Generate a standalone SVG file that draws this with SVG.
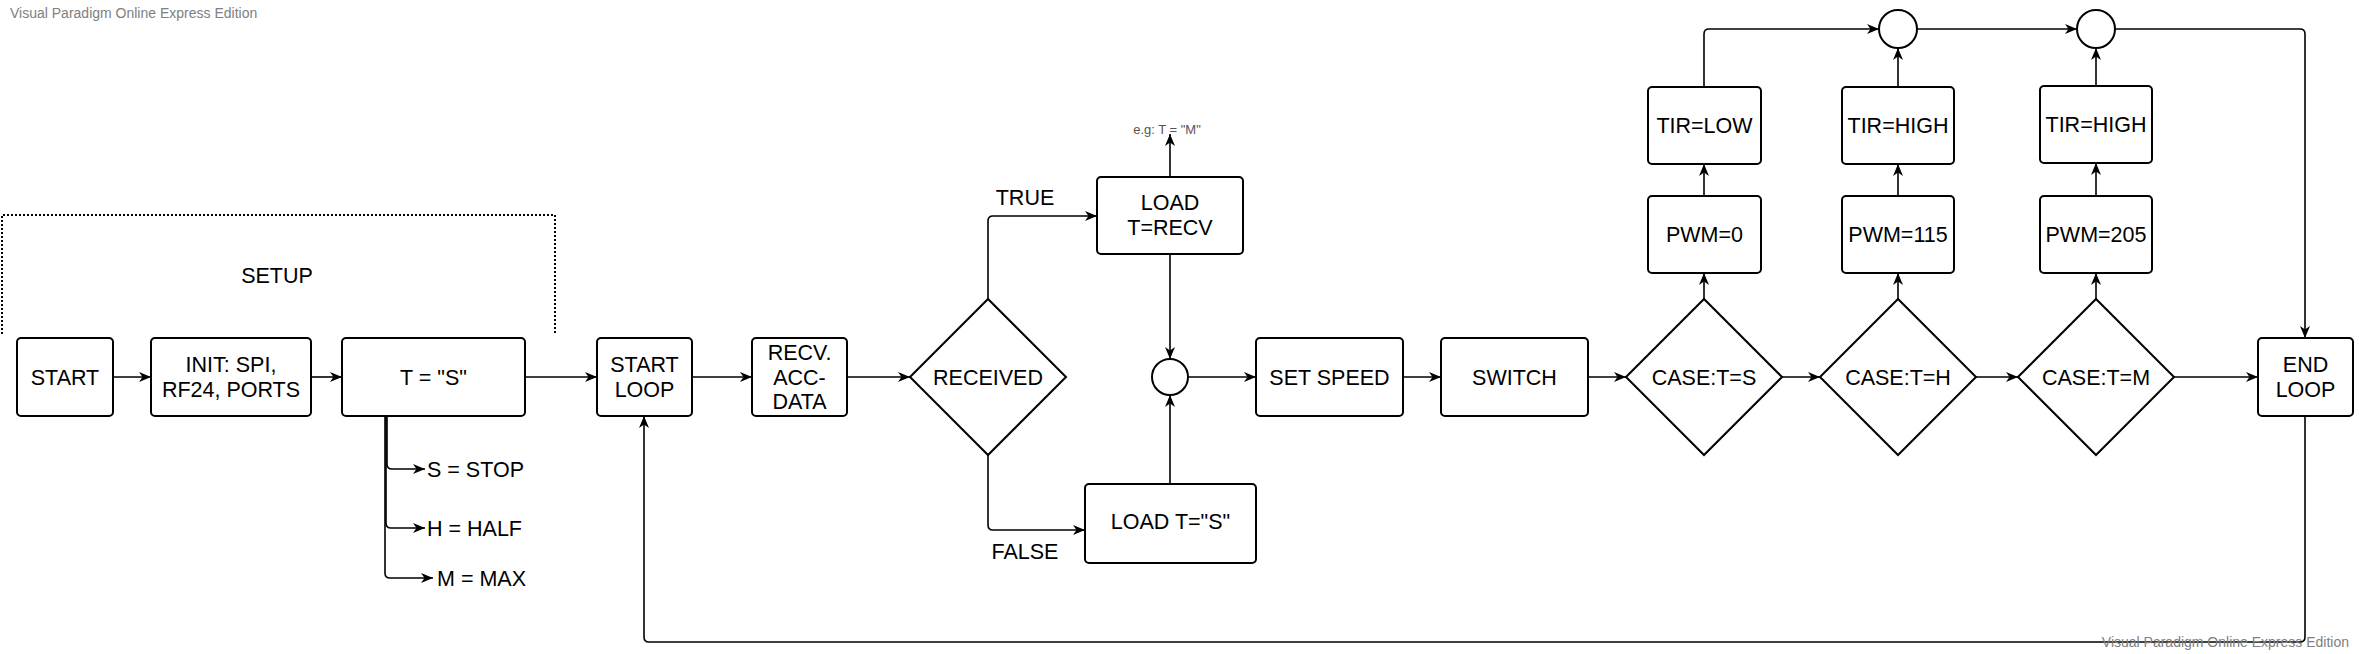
<svg xmlns="http://www.w3.org/2000/svg" width="2359" height="654" viewBox="0 0 2359 654">
<style>
  .box { fill: #ffffff; stroke: #000000; stroke-width: 2; }
  .conn { fill: none; stroke: #000000; stroke-width: 1.6; }
  .t { font-family: "Liberation Sans", Arial, sans-serif; font-size: 21.5px; fill: #000000; text-anchor: middle; }
  .tl { font-family: "Liberation Sans", Arial, sans-serif; font-size: 21.5px; fill: #000000; text-anchor: start; }
  .small { font-family: "Liberation Sans", Arial, sans-serif; font-size: 13px; fill: #555555; text-anchor: middle; }
  .wm { font-family: "Liberation Sans", Arial, sans-serif; font-size: 14px; fill: #808080; }
  .setup { fill: none; stroke: #000000; stroke-width: 2; stroke-dasharray: 2 2; }
</style>
<defs>
  <marker id="arr" markerUnits="userSpaceOnUse" markerWidth="13" markerHeight="11" refX="12" refY="5.5" orient="auto">
    <path d="M0,0.5 L12,5.5 L0,10.5 L3.5,5.5 Z" fill="#000000"/>
  </marker>
</defs>
<rect width="2359" height="654" fill="#ffffff"/>

<text class="wm" x="10" y="18">Visual Paradigm Online Express Edition</text>

<g id="setup-group">
  <path class="setup" d="M2,334 V215 H555 V334"/>
  <text class="t" x="277" y="283">SETUP</text>
</g>

<g id="connectors">
  <path class="conn" d="M113,377 H151" marker-end="url(#arr)"/>
  <path class="conn" d="M311,377 H342" marker-end="url(#arr)"/>
  <path class="conn" d="M525,377 H597" marker-end="url(#arr)"/>
  <path class="conn" d="M387,416 V464 Q387,469 392,469 H425" marker-end="url(#arr)"/>
  <path class="conn" d="M386,416 V523 Q386,528 391,528 H425" marker-end="url(#arr)"/>
  <path class="conn" d="M385,416 V573 Q385,578 390,578 H433" marker-end="url(#arr)"/>
  <path class="conn" d="M692,377 H752" marker-end="url(#arr)"/>
  <path class="conn" d="M847,377 H910" marker-end="url(#arr)"/>
  <path class="conn" d="M988,299 V221 Q988,216 993,216 H1097" marker-end="url(#arr)"/>
  <path class="conn" d="M988,455 V525 Q988,530 993,530 H1085" marker-end="url(#arr)"/>
  <path class="conn" d="M1170,177 V134" marker-end="url(#arr)"/>
  <path class="conn" d="M1170,254 V359" marker-end="url(#arr)"/>
  <path class="conn" d="M1170,484 V395" marker-end="url(#arr)"/>
  <path class="conn" d="M1188,377 H1256" marker-end="url(#arr)"/>
  <path class="conn" d="M1403,377 H1441" marker-end="url(#arr)"/>
  <path class="conn" d="M1588,377 H1626" marker-end="url(#arr)"/>
  <path class="conn" d="M1782,377 H1820" marker-end="url(#arr)"/>
  <path class="conn" d="M1976,377 H2018" marker-end="url(#arr)"/>
  <path class="conn" d="M2174,377 H2258" marker-end="url(#arr)"/>
  <path class="conn" d="M1704,299 V273" marker-end="url(#arr)"/>
  <path class="conn" d="M1704,196 V164" marker-end="url(#arr)"/>
  <path class="conn" d="M1704,87 V34 Q1704,29 1709,29 H1879" marker-end="url(#arr)"/>
  <path class="conn" d="M1898,299 V273" marker-end="url(#arr)"/>
  <path class="conn" d="M1898,196 V164" marker-end="url(#arr)"/>
  <path class="conn" d="M1898,87 V48" marker-end="url(#arr)"/>
  <path class="conn" d="M2096,299 V273" marker-end="url(#arr)"/>
  <path class="conn" d="M2096,196 V163" marker-end="url(#arr)"/>
  <path class="conn" d="M2096,86 V48" marker-end="url(#arr)"/>
  <path class="conn" d="M1917,29 H2077" marker-end="url(#arr)"/>
  <path class="conn" d="M2115,29 H2300 Q2305,29 2305,34 V338" marker-end="url(#arr)"/>
  <path class="conn" d="M2305,416 V637 Q2305,642 2300,642 H649 Q644,642 644,637 V416" marker-end="url(#arr)"/>
</g>

<g id="start">
  <rect class="box" x="17" y="338" width="96" height="78" rx="4"/>
  <text class="t" x="65" y="384.5">START</text>
</g>
<g id="init">
  <rect class="box" x="151" y="338" width="160" height="78" rx="4"/>
  <text class="t" x="231" y="372">INIT: SPI,</text>
  <text class="t" x="231" y="396.5">RF24, PORTS</text>
</g>
<g id="t-s">
  <rect class="box" x="342" y="338" width="183" height="78" rx="4"/>
  <text class="t" x="433.5" y="384.5">T = "S"</text>
</g>
<g id="opt-stop"><text class="tl" x="427" y="476.5">S = STOP</text></g>
<g id="opt-half"><text class="tl" x="427" y="535.5">H = HALF</text></g>
<g id="opt-max"><text class="tl" x="437" y="585.5">M = MAX</text></g>

<g id="start-loop">
  <rect class="box" x="597" y="338" width="95" height="78" rx="4"/>
  <text class="t" x="644.5" y="372">START</text>
  <text class="t" x="644.5" y="396.5">LOOP</text>
</g>
<g id="recv">
  <rect class="box" x="752" y="338" width="95" height="78" rx="4"/>
  <text class="t" x="799.5" y="360">RECV.</text>
  <text class="t" x="799.5" y="384.5">ACC-</text>
  <text class="t" x="799.5" y="409">DATA</text>
</g>
<g id="received">
  <polygon class="box" points="910,377 988,299 1066,377 988,455"/>
  <text class="t" x="988" y="384.5">RECEIVED</text>
</g>
<g id="label-true"><text class="t" x="1025" y="204.5">TRUE</text></g>
<g id="label-false"><text class="t" x="1025" y="558.5">FALSE</text></g>

<g id="load-recv">
  <rect class="box" x="1097" y="177" width="146" height="77" rx="4"/>
  <text class="t" x="1170" y="210">LOAD</text>
  <text class="t" x="1170" y="234.5">T=RECV</text>
</g>
<g id="eg-note"><text class="small" x="1167" y="133.5">e.g: T = "M"</text></g>
<g id="load-s">
  <rect class="box" x="1085" y="484" width="171" height="79" rx="4"/>
  <text class="t" x="1170.5" y="529">LOAD T="S"</text>
</g>
<g id="merge1">
  <circle class="box" cx="1170" cy="377" r="18"/>
</g>
<g id="set-speed">
  <rect class="box" x="1256" y="338" width="147" height="78" rx="4"/>
  <text class="t" x="1329.5" y="384.5">SET SPEED</text>
</g>
<g id="switch">
  <rect class="box" x="1441" y="338" width="147" height="78" rx="4"/>
  <text class="t" x="1514.5" y="384.5">SWITCH</text>
</g>

<g id="case-s">
  <polygon class="box" points="1626,377 1704,299 1782,377 1704,455"/>
  <text class="t" x="1704" y="384.5">CASE:T=S</text>
</g>
<g id="case-h">
  <polygon class="box" points="1820,377 1898,299 1976,377 1898,455"/>
  <text class="t" x="1898" y="384.5">CASE:T=H</text>
</g>
<g id="case-m">
  <polygon class="box" points="2018,377 2096,299 2174,377 2096,455"/>
  <text class="t" x="2096" y="384.5">CASE:T=M</text>
</g>

<g id="pwm-0">
  <rect class="box" x="1648" y="196" width="113" height="77" rx="4"/>
  <text class="t" x="1704.5" y="242">PWM=0</text>
</g>
<g id="tir-low">
  <rect class="box" x="1648" y="87" width="113" height="77" rx="4"/>
  <text class="t" x="1704.5" y="133">TIR=LOW</text>
</g>
<g id="pwm-115">
  <rect class="box" x="1842" y="196" width="112" height="77" rx="4"/>
  <text class="t" x="1898" y="242">PWM=115</text>
</g>
<g id="tir-high-1">
  <rect class="box" x="1842" y="87" width="112" height="77" rx="4"/>
  <text class="t" x="1898" y="133">TIR=HIGH</text>
</g>
<g id="pwm-205">
  <rect class="box" x="2040" y="196" width="112" height="77" rx="4"/>
  <text class="t" x="2096" y="242">PWM=205</text>
</g>
<g id="tir-high-2">
  <rect class="box" x="2040" y="86" width="112" height="77" rx="4"/>
  <text class="t" x="2096" y="132">TIR=HIGH</text>
</g>
<g id="merge2">
  <circle class="box" cx="1898" cy="29" r="19"/>
</g>
<g id="merge3">
  <circle class="box" cx="2096" cy="29" r="19"/>
</g>
<g id="end-loop">
  <rect class="box" x="2258" y="338" width="95" height="78" rx="4"/>
  <text class="t" x="2305.5" y="372">END</text>
  <text class="t" x="2305.5" y="396.5">LOOP</text>
</g>

<text class="wm" x="2349" y="647" text-anchor="end">Visual Paradigm Online Express Edition</text>
</svg>
